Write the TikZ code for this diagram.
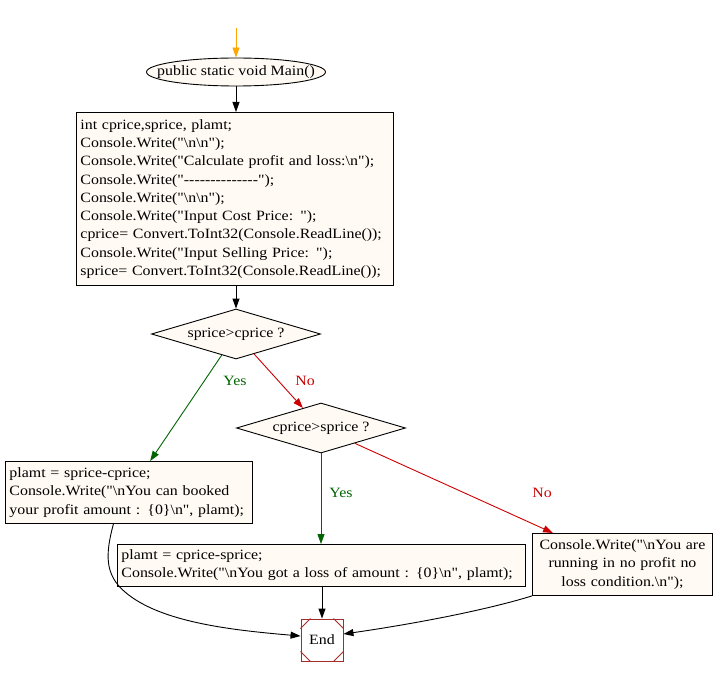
\documentclass[tikz,border=0pt]{standalone}
\usepackage{fontspec}
\setmainfont{Liberation Serif}[Ligatures=TeXOff, FakeStretch=1.12]
\usetikzlibrary{positioning,shapes.geometric,arrows.meta}
\definecolor{boxfill}{HTML}{FFFAF3}
\definecolor{yescol}{HTML}{006400}
\definecolor{nocol}{HTML}{CC0000}
\definecolor{startcol}{HTML}{FFA500}
\definecolor{endcol}{HTML}{A52A2A}

\begin{document}
\begin{tikzpicture}[x=1pt, y=-1pt, font=\fontsize{14.2}{18.3}\selectfont, >={Triangle[length=10pt,width=7pt]}, line width=0.9pt,
  every node/.style={inner sep=0pt},
  startnode/.style={draw, ellipse, fill=boxfill, minimum width=179pt, minimum height=28pt},
  codebox/.style={draw, fill=boxfill, align=left, inner sep=4pt, anchor=north west},
  decision/.style={draw, diamond, fill=boxfill, aspect=3.4, minimum width=169pt, minimum height=50pt},
  endnode/.style={draw=endcol, fill=white, minimum size=42pt},
  cut/.style={draw=endcol}]
\useasboundingbox (0,0) rectangle (714,676);
\coordinate (start) at (236,28);
\node[startnode] (main) at (236,72) {\makebox[110pt]{public static void Main()}};
\node[codebox, text width=309pt, minimum height=173pt] (init) at (76,112) {int cprice,sprice, plamt;\\Console.Write("\textbackslash n\textbackslash n");\\Console.Write("Calculate profit and loss:\textbackslash n");\\Console.Write("--------------");\\Console.Write("\textbackslash n\textbackslash n");\\Console.Write("Input Cost Price: ");\\cprice= Convert.ToInt32(Console.ReadLine());\\Console.Write("Input Selling Price: ");\\sprice= Convert.ToInt32(Console.ReadLine());};
\node[decision] (chk1) at (236,334) {sprice>cprice ?};
\node[decision] (chk2) at (321,428) {cprice>sprice ?};
\node[codebox, text width=239pt, minimum height=62pt] (profit) at (5,461) {plamt = sprice-cprice;\\Console.Write("\textbackslash nYou can booked\\your profit amount : \{0\}\textbackslash n", plamt);};
\node[codebox, text width=400pt, minimum height=42pt] (loss) at (117,544) {plamt = cprice-sprice;\\Console.Write("\textbackslash nYou got a loss of amount : \{0\}\textbackslash n", plamt);};
\node[codebox, align=center, text width=172pt, minimum height=62pt] (even) at (532,533) {Console.Write("\textbackslash nYou are\\running in no profit no\\loss condition.\textbackslash n");};
\node[endnode] (end) at (322,640) {End};
\draw[cut] ([yshift=-10pt]end.north west) -- ([xshift=10pt]end.north west);
\draw[cut] ([yshift=-10pt]end.north east) -- ([xshift=-10pt]end.north east);
\draw[cut] ([yshift=10pt]end.south west) -- ([xshift=10pt]end.south west);
\draw[cut] ([yshift=10pt]end.south east) -- ([xshift=-10pt]end.south east);
\node[text=yescol] (yes1) at (235,381) {Yes};
\node[text=nocol] (no1) at (305,381) {No};
\node[text=yescol] (yes2) at (341,493) {Yes};
\node[text=nocol] (no2) at (542,493) {No};
\draw[->, startcol] (start) -- (main);
\draw[->] (main) -- (main |- init.north);
\draw[->] (init.south -| chk1) -- (chk1);
\draw[->, yescol] (chk1) -- (profit);
\draw[->, nocol] (chk1) -- (chk2);
\draw[->, yescol] (chk2) -- (chk2 |- loss.north);
\draw[->, nocol] (chk2) -- (even);
\draw[->] (loss.south -| end) -- (end);
\draw[->] ([xshift=-15.5pt]profit.south) .. controls (105,555) and (105,575) .. (125,592) .. controls (160,622) and (230,630) .. ([yshift=4pt]end.west);
\draw[->] (even.south west) .. controls (480,612) and (400,626) .. ([yshift=6pt]end.east);
\end{tikzpicture}
\end{document}
